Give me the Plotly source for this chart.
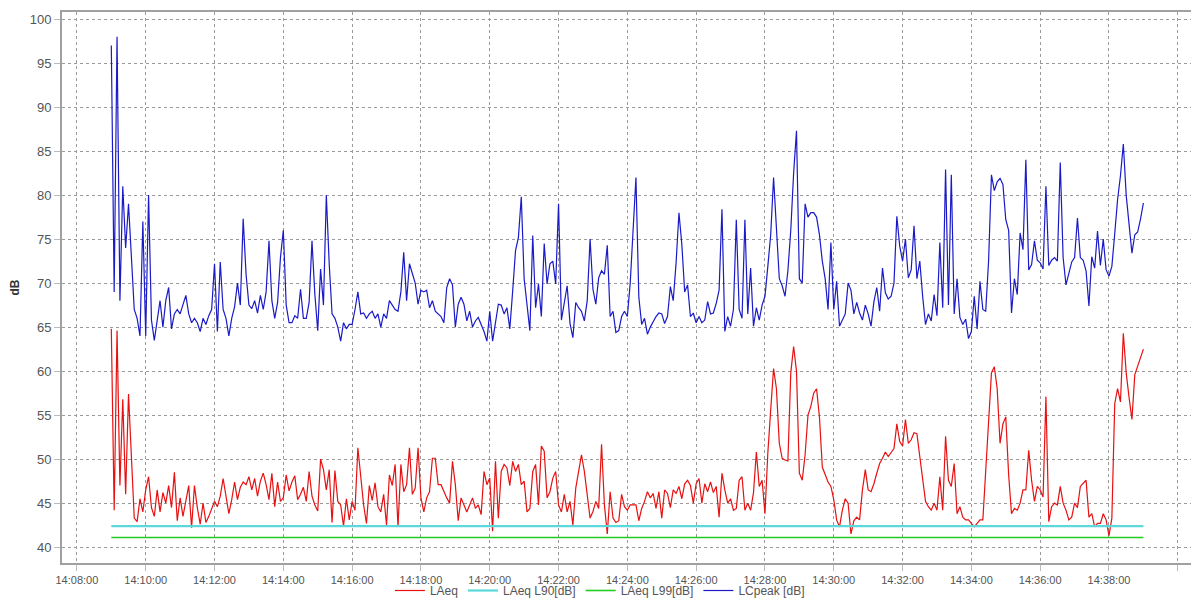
import pandas as pd
import plotly.graph_objects as go

# ---- data (5-second samples from 14:09:00 to 14:39:00) ----
start_time = "2024-01-01 14:09:00"
step_seconds = 5

laeq = [
    64.8, 44.2, 64.6, 47, 56.8, 46, 57.4, 49.4, 43.3, 42.9,
    45.5, 44, 46.5, 48, 44.5, 43.5, 46.5, 44, 46.2, 45,
    47, 44.5, 48.5, 43, 45.6, 43.5, 45.4, 47, 42.2, 47,
    44.5, 42.6, 45, 42.8, 43.5, 44.3, 45.2, 44.6, 45.8, 47.8,
    46, 43.8, 45.4, 47.4, 45.4, 46.8, 47.4, 47.1, 48, 46.5,
    47.8, 45.8, 47.5, 48.4, 47.1, 45.4, 48.4, 44.6, 47.4, 45.2,
    45.6, 48.2, 46.4, 47.4, 48.1, 45.4, 46, 46.8, 45.2, 48.6,
    45.8, 44.8, 44.1, 50, 48.8, 46.5, 48.8, 42.8, 48.7, 45.2,
    44.8, 42.4, 45.5, 43.1, 45.2, 44.2, 51.3, 47.8, 44.8, 42.7,
    47, 45.3, 47.3, 44.6, 44, 46, 42.5, 48.2, 47, 49.4,
    42.3, 49.4, 46.3, 47.1, 51.3, 46, 46.7, 51.3, 45.6, 44,
    45.6, 46.3, 50.1, 50.1, 47.1, 47.1, 46.3, 45.6, 45, 49.75,
    47.1, 43, 45.6, 44.8, 44, 44.8, 45.6, 44.4, 44.8, 43.7,
    48.6, 47.1, 47.85, 41.8, 49.75, 43.3, 48.6, 49.4, 49, 47,
    49.75, 48.6, 49.4, 47.1, 47.5, 44, 44.4, 48.6, 49.4, 44.8,
    51.5, 50.9, 45.6, 46.3, 47.85, 48.6, 44.8, 44, 46, 44,
    45.2, 42.5, 46.7, 48.6, 50.5, 48.6, 45.6, 43.3, 44.05, 45.2,
    44.4, 51.7, 44.8, 41.5, 46.3, 43.3, 42.8, 43, 46, 44.6,
    44.2, 44.8, 44.8, 44.8, 43, 44.4, 45.2, 46.3, 45.6, 46.1,
    44.4, 46.3, 43.3, 46.5, 46.1, 44.5, 46.5, 46.1, 46.9, 45.5,
    47.2, 47.6, 47, 45, 47.2, 47.8, 45, 47.2, 46.3, 47.4,
    46.2, 46.9, 43.4, 48.4, 46.5, 45, 45.5, 44.2, 44.4, 47.6,
    48, 44.2, 45, 44.2, 46.2, 50.8, 46.9, 47.6, 43.8, 50.7,
    55.6, 60.3, 58, 51.8, 50.1, 49.9, 49.8, 59.8, 62.8, 60,
    48.4, 47.6, 50.5, 55, 56, 57.5, 58, 54.8, 49.1, 48.2,
    47.4, 46.9, 45.4, 43.1, 42.3, 44.2, 45.5, 45, 41.5, 43,
    43.4, 43.1, 46.5, 48.8, 46.5, 46.3, 47.2, 48.4, 49.5, 50.1,
    50.8, 50.3, 50.7, 51.2, 54, 52, 51.5, 54.5, 51.8, 52.2,
    53, 52.9, 50.3, 47.5, 45.2, 44.6, 44.2, 45, 44.2, 48,
    44.2, 52.6, 47.6, 46.9, 49.5, 43.8, 44.6, 43.4, 43.1, 43.1,
    42.7, 42.3, 42.7, 43.1, 43.1, 48.5, 54, 59.8, 60.5, 58,
    51.8, 54, 54.8, 48.2, 43.8, 44.4, 44.2, 45, 46.5, 46.5,
    51, 47.6, 45.2, 46.9, 46.5, 45.7, 57.1, 42.9, 44.6, 45,
    44.8, 46.9, 45, 44.2, 43.1, 43.4, 45, 44.5, 46.9, 47.2,
    47.6, 43.4, 43.8, 42.3, 42.7, 42.7, 43.8, 43.1, 41.3, 43.3,
    56.3, 58, 56.5, 64.3, 59.8, 57, 54.5, 59.6, 60.5, 61.6,
    62.5,
]

lcpeak = [
    97, 69, 98, 68, 81, 74, 79, 73, 67, 66,
    64, 77, 64, 80, 65.8, 63.5, 66, 68, 65, 68,
    69.5, 64.8, 66.5, 67, 66.5, 67.5, 68.6, 66.5, 65.5, 66,
    65.5, 64.5, 66, 65.3, 66.3, 67, 72.2, 64.5, 72.4, 67,
    66, 64, 66, 67.3, 70, 67.5, 77.3, 71, 67.5, 67.1,
    68, 66.6, 68.6, 67, 69, 74.8, 68, 66, 67.8, 72.9,
    76, 67.5, 65.5, 65.5, 66.3, 66, 69.3, 66, 66, 67.8,
    74.8, 68.7, 64.6, 71.6, 67.5, 80, 72.2, 66.5, 66, 65,
    63.4, 65.5, 64.8, 65.3, 65.3, 67, 69, 66.5, 66.6, 66,
    66.5, 66.8, 66, 66.5, 65, 66.5, 66, 68, 67.5, 67,
    66.8, 69, 73.5, 68, 72.2, 71, 70, 67.6, 69.2, 69,
    69.2, 67.2, 68, 66.8, 66.5, 66.2, 65.5, 69.5, 70.5, 69.8,
    65, 67.6, 68.4, 67.6, 65.7, 66.8, 65, 65.7, 66.1, 65.3,
    64.5, 63.4, 66.8, 63.4, 65.3, 67.6, 67.5, 66.5, 67.2, 64.8,
    69.1, 73.7, 75.2, 79.8, 70.5, 67.6, 64.6, 75.4, 67.2, 69.9,
    66.2, 74.5, 69.9, 72.2, 72.5, 69.9, 79, 65.8, 67.6, 69.7,
    65.4, 63.8, 67.8, 67.2, 66.8, 65.7, 68, 75, 69.3, 67.6,
    70.6, 71.4, 71, 74.3, 66.2, 66.8, 64.4, 64.6, 66.2, 66.8,
    66.2, 70, 76, 82, 68.4, 65.3, 66, 64.2, 65, 65.7,
    66.2, 66.6, 66.5, 65.4, 66.2, 69.6, 68, 72.3, 78, 74.4,
    69, 69.8, 66.2, 66.6, 65.5, 66.2, 65.5, 65.8, 67.9, 66.5,
    66.6, 67.7, 69.2, 78.4, 64.5, 66.2, 65.1, 67, 77.2, 67,
    66, 77.2, 66.5, 71.7, 65.1, 67.2, 65.8, 67.5, 68.5, 71.9,
    75.5, 82, 75.6, 70.5, 69.7, 68.5, 71.4, 76, 82.5, 87.3,
    70.5, 70, 79, 77.5, 78, 78, 77.5, 75.5, 72.5, 70.5,
    67, 74.6, 67, 70.2, 65.1, 65.8, 66.5, 70, 69.2, 66.5,
    67.8, 66.6, 65.8, 67.5, 66.5, 65.1, 67.9, 69.5, 66.8, 71.7,
    68.9, 68.2, 68.5, 70, 77.6, 74.2, 72.5, 75, 70.6, 71.5,
    76.5, 70.5, 72.5, 68.5, 65.3, 66.5, 65.7, 68.7, 66.3, 74.6,
    67.2, 82.9, 67.5, 82.3, 66.5, 70.5, 66.1, 65.3, 65.9, 63.7,
    64.5, 68.5, 64.8, 70.2, 67, 66.8, 72.5, 82.3, 80.5, 81.5,
    81.9, 81.2, 77.2, 76, 66.6, 70.5, 68.7, 75.7, 73.8, 84,
    71.5, 72.1, 74.8, 72.6, 72.3, 71.6, 81, 72, 72.6, 72.9,
    72.5, 83.7, 72.9, 69.8, 71.2, 72.4, 72.9, 77.4, 72.9, 72.6,
    71.4, 67.4, 73, 71.7, 75.9, 72, 75, 71.5, 70.8, 71.9,
    75.6, 79.5, 82.2, 85.8, 80, 76.5, 73.4, 75.5, 75.8, 77.3,
    79.1,
]

# Percentile levels (constant over the measurement)
l90_times = ["2024-01-01 14:09:00", "2024-01-01 14:39:00"]
l90_values = [42.4, 42.4]
l99_times = ["2024-01-01 14:09:00", "2024-01-01 14:39:00"]
l99_values = [41.1, 41.1]

y_ticks = [40, 45, 50, 55, 60, 65, 70, 75, 80, 85, 90, 95, 100]

times = pd.date_range(start=start_time, periods=len(laeq), freq=f"{step_seconds}s")
times_peak = pd.date_range(start=start_time, periods=len(lcpeak), freq=f"{step_seconds}s")

fig = go.Figure()
fig.add_trace(go.Scatter(x=times, y=laeq, mode="lines", name="LAeq",
                         line=dict(color="#e81010", width=1.2)))
fig.add_trace(go.Scatter(x=l90_times, y=l90_values, mode="lines", name="LAeq L90[dB]",
                         line=dict(color="#5ad8dc", width=2.2)))
fig.add_trace(go.Scatter(x=l99_times, y=l99_values, mode="lines", name="LAeq L99[dB]",
                         line=dict(color="#22cc22", width=1.6)))
fig.add_trace(go.Scatter(x=times_peak, y=lcpeak, mode="lines", name="LCpeak [dB]",
                         line=dict(color="#1a1ac8", width=1.2)))

axis_font = dict(family="Liberation Sans, Arial, sans-serif", size=11, color="#555555")

# the page body adds an 8px offset; the figure is sized to fill the rest of the window
fig.update_layout(
    width=1191, height=597,
    margin=dict(l=54, r=4, t=4, b=42),
    paper_bgcolor="white", plot_bgcolor="white",
    font=dict(family="Liberation Sans, Arial, sans-serif", size=12, color="#444444"),
    showlegend=True,
    legend=dict(orientation="h", x=0.497, xref="container", xanchor="center",
                y=-0.022, yref="container", yanchor="bottom",
                font=dict(size=12, color="#555555"), itemwidth=30,
                bgcolor="rgba(0,0,0,0)", tracegroupgap=0),
    xaxis=dict(
        type="date",
        range=["2024-01-01 14:07:34", "2024-01-01 14:40:30"],
        tick0="2024-01-01 14:08:00", dtick=120000, tickformat="%H:%M:%S",
        showgrid=True, gridcolor="#9a9a9a", griddash="dot", gridwidth=1,
        showline=True, linecolor="#a0a0a0", linewidth=2, mirror=True,
        ticks="outside", ticklen=6, tickcolor="#bbbbbb",
        tickfont=axis_font, automargin=False, zeroline=False,
    ),
    yaxis=dict(
        range=[38.2, 100.8], tickvals=y_ticks,
        showgrid=True, gridcolor="#9a9a9a", griddash="dot", gridwidth=1,
        showline=True, linecolor="#a0a0a0", linewidth=2, mirror=True,
        ticks="outside", ticklen=6, tickcolor="#bbbbbb",
        tickfont=dict(family="Liberation Sans, Arial, sans-serif", size=13, color="#555555"),
        title=dict(text="<b>dB</b>", font=dict(size=12, color="#333333"), standoff=7),
        automargin=False, zeroline=False,
    ),
)

fig.write_html("out.html")
